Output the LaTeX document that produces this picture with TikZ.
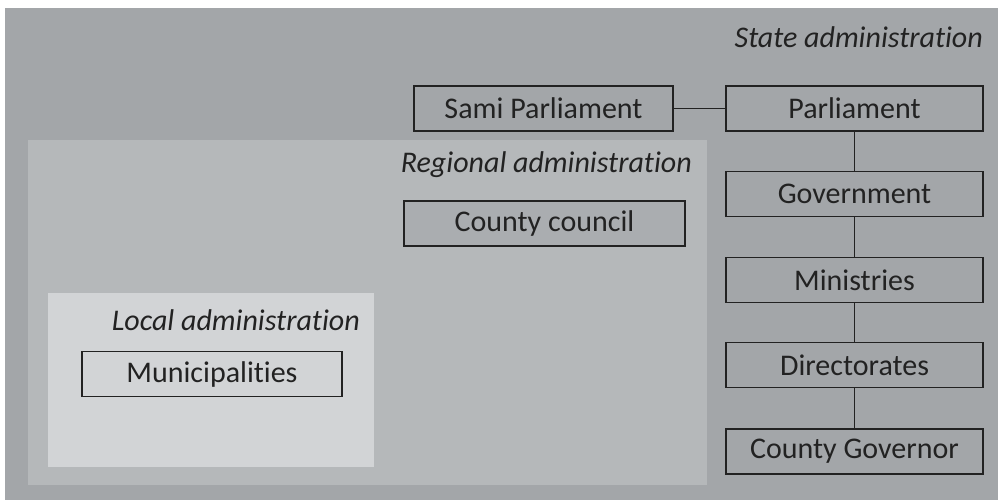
\documentclass[tikz,border=0pt]{standalone}
\usepackage{fontspec}
\setmainfont{Carlito}[Ligatures=NoCommon]
\definecolor{stategray}{HTML}{A3A6A9}
\definecolor{regiongray}{HTML}{B5B8BA}
\definecolor{localgray}{HTML}{D2D4D6}
\definecolor{councilgray}{HTML}{AAADB0}
\definecolor{inkgray}{HTML}{222222}

\begin{document}
\begin{tikzpicture}[x=1pt, y=-1pt,
  unit/.style = {draw=inkgray, line width=1.2pt, text=inkgray, inner sep=0pt,
                 minimum height=45pt, font=\fontsize{30}{34}\selectfont},
  level/.style = {text=inkgray, font=\fontsize{30}{34}\selectfont\itshape, inner sep=0pt},
  link/.style = {draw=inkgray, line width=1.2pt}]
\useasboundingbox (0,0) rectangle (998,500);
% the three layers
\fill[stategray] (5,8) rectangle (998,500);
\fill[regiongray] (28,140) rectangle (707,485);
\fill[localgray] (48,293) rectangle (374,467);
\node[level, anchor=east] (state) at (983,37) {State administration};
\node[level, anchor=east] (region) at (692,165) {Regional administration};
\node[level, anchor=east] (local) at (360,320) {Local administration};
% state boxes
\node[unit, fill=stategray, minimum width=259pt] (sami) at (543.5,108.5) {Sami Parliament};
\node[unit, fill=stategray, minimum width=257pt] (parl) at (854.5,108.5) {Parliament};
\node[unit, fill=stategray, minimum width=257pt] (gov) at (854.5,194) {Government};
\node[unit, fill=stategray, minimum width=257pt] (min) at (854.5,280) {Ministries};
\node[unit, fill=stategray, minimum width=257pt] (dir) at (854.5,365) {Directorates};
\node[unit, fill=stategray, minimum width=257pt] (cgov) at (854.5,451.5) {County Governor};
% regional and local boxes
\node[unit, fill=councilgray, minimum width=281pt] (council) at (544.5,223.5) {County council};
\node[unit, fill=localgray, minimum width=260pt] (muni) at (212,374) {Municipalities};
\path[link] (sami) -- (parl);
\path[link] (parl) -- (gov);
\path[link] (gov) -- (min);
\path[link] (min) -- (dir);
\path[link] (dir) -- (cgov);
\end{tikzpicture}
\end{document}
